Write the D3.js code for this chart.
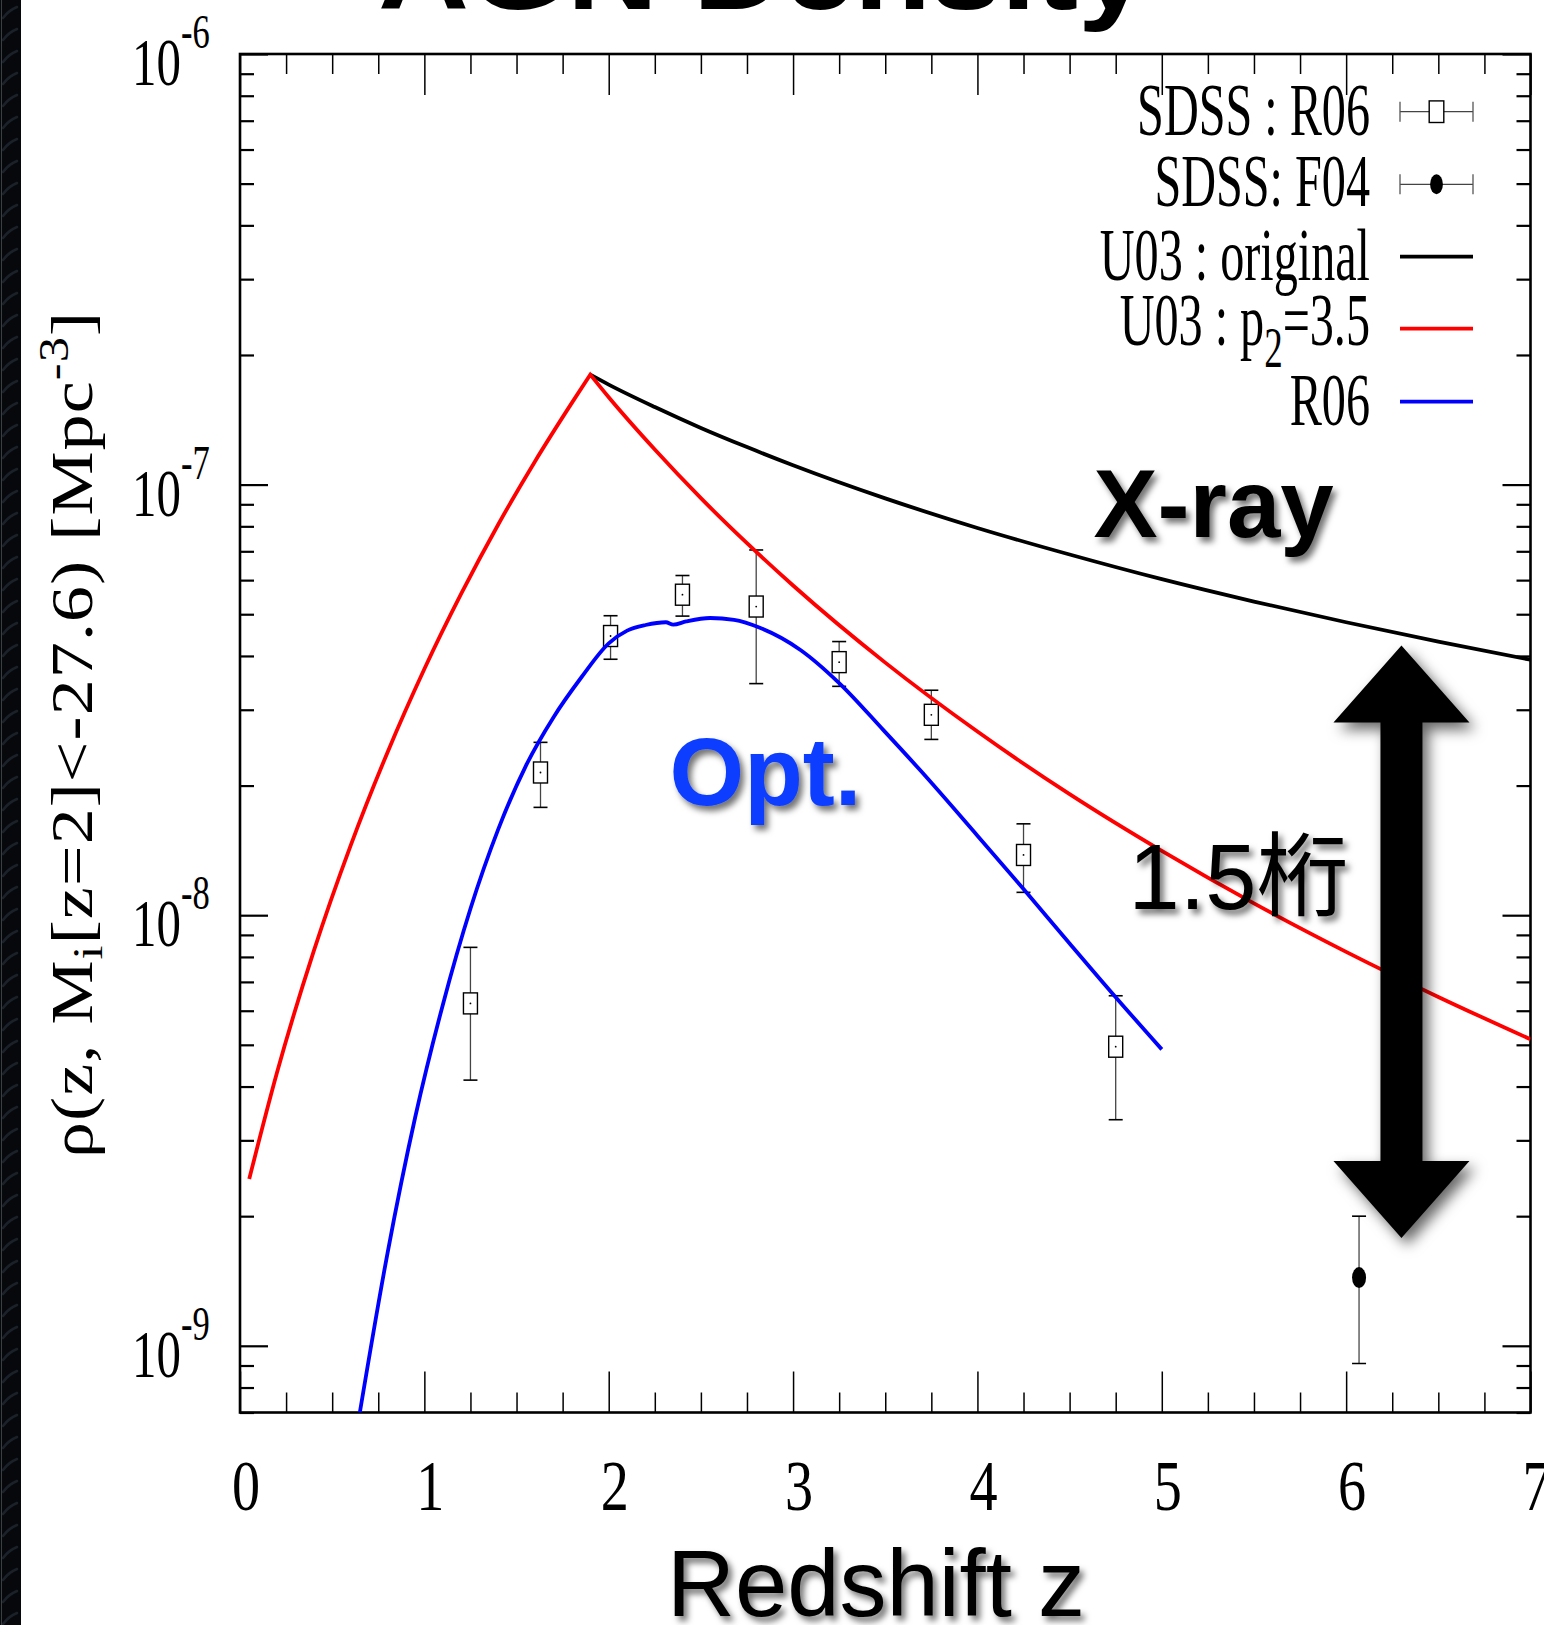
<!DOCTYPE html>
<html>
<head>
<meta charset="utf-8">
<script src="https://cdn.jsdelivr.net/npm/d3@7"></script>
<style>
  html, body { margin: 0; padding: 0; background: #fff; overflow: hidden; }
  svg { display: block; }
</style>
</head>
<body>
<svg id="chart" width="1544" height="1625"></svg>
<script>
// ---------------- data ----------------
const zTicks = [0, 1, 2, 3, 4, 5, 6, 7];
const decadeTicks = [1e-9, 1e-8, 1e-7, 1e-6];
const decadeExponents = ["-9", "-8", "-7", "-6"];

// U03 LDDE model: shared rising branch up to the cut-off redshift
const u03RiseZ   = [0.05, 0.2, 0.4, 0.6, 0.8, 1.0, 1.2, 1.4, 1.6, 1.8, 1.9];
const u03RiseRho = [2.44e-9, 4.30e-9, 8.25e-9, 1.451e-8, 2.388e-8, 3.73e-8, 5.58e-8, 8.07e-8, 1.132e-7, 1.548e-7, 1.80e-7];
// falling branches above the cut-off
const u03FallZ   = [1.9, 2.0, 2.25, 2.5, 2.75, 3.0, 3.5, 4.0, 4.5, 5.0, 5.5, 6.0, 6.5, 7.0];
const u03OrigRho = [1.80e-7, 1.707e-7, 1.514e-7, 1.354e-7, 1.222e-7, 1.109e-7, 9.29e-8, 7.93e-8, 6.88e-8, 6.03e-8, 5.35e-8, 4.79e-8, 4.32e-8, 3.92e-8];
const u03P2Rho   = [1.80e-7, 1.595e-7, 1.206e-7, 9.30e-8, 7.31e-8, 5.83e-8, 3.86e-8, 2.67e-8, 1.91e-8, 1.41e-8, 1.065e-8, 8.22e-9, 6.46e-9, 5.15e-9];

// R06 model curve
const r06ModelZ   = [0.65, 0.8, 0.95, 1.1, 1.25, 1.4, 1.55, 1.7, 1.85, 2.0, 2.1, 2.2, 2.31, 2.35, 2.42, 2.55, 2.68, 2.82, 3.04, 3.25, 3.49, 3.69, 4.0, 4.25, 4.5, 4.75, 5.0];
const r06ModelRho = [7.0e-10, 1.64e-9, 3.39e-9, 6.19e-9, 1.035e-8, 1.58e-8, 2.22e-8, 2.88e-8, 3.56e-8, 4.28e-8, 4.58e-8, 4.72e-8, 4.79e-8, 4.73e-8, 4.81e-8, 4.90e-8, 4.85e-8, 4.65e-8, 4.13e-8, 3.46e-8, 2.69e-8, 2.17e-8, 1.53e-8, 1.15e-8, 8.6e-9, 6.45e-9, 4.88e-9];

// SDSS : R06 binned densities
const r06Z   = [1.25, 1.63, 2.01, 2.40, 2.80, 3.25, 3.75, 4.25, 4.75];
const r06Rho = [6.24e-9, 2.145e-8, 4.45e-8, 5.55e-8, 5.21e-8, 3.87e-8, 2.92e-8, 1.38e-8, 4.95e-9];
const r06Lo  = [4.14e-9, 1.78e-8, 3.93e-8, 4.95e-8, 3.45e-8, 3.40e-8, 2.56e-8, 1.13e-8, 3.35e-9];
const r06Hi  = [8.42e-9, 2.52e-8, 4.96e-8, 6.15e-8, 7.05e-8, 4.32e-8, 3.33e-8, 1.63e-8, 6.50e-9];

// SDSS : F04
const f04Z   = [6.07];
const f04Rho = [1.44e-9];
const f04Lo  = [9.1e-10];
const f04Hi  = [2.0e-9];

const legendLabels = ["SDSS : R06", "SDSS: F04", "U03 : original", "U03 : p", "R06"];

// annotation anchors (redshift, density)
const arrowSpan = { z: 6.3, top: 4.23e-8, bottom: 1.78e-9 };
const xrayLabel = { z: 4.63, rho: 7.57e-8, text: "X-ray" };
const optLabel  = { z: 2.33, rho: 1.80e-8, text: "Opt." };
const gapLabel  = { z: 4.82, rho: 1.031e-8, text: "1.5桁" };

// ---------------- layout ----------------
const plot = { left: 240, right: 1530.5, top: 54, bottom: 1412.5 };
const serif = "'Liberation Serif', 'Times New Roman', serif";
const sans = "'Liberation Sans', Arial, 'Noto Sans CJK JP', sans-serif";
const curveWidth = 3.8;

const x = d3.scaleLinear().domain([0, 7]).range([plot.left, plot.right]);
const y = d3.scaleLog().domain([7e-10, 1e-6]).range([plot.bottom, plot.top]);

const svg = d3.select("#chart");
const defs = svg.append("defs");

function dropShadow(id, dx, dy, sd, op) {
  const f = defs.append("filter").attr("id", id)
    .attr("x", "-40%").attr("y", "-40%").attr("width", "180%").attr("height", "180%");
  f.append("feDropShadow").attr("dx", dx).attr("dy", dy).attr("stdDeviation", sd)
    .attr("flood-color", "#000").attr("flood-opacity", op);
}
dropShadow("textShadow", 4, 5, 3, 0.55);
dropShadow("arrowShadow", 6, 7, 7, 0.6);

defs.append("clipPath").attr("id", "plotClip")
  .append("rect").attr("x", plot.left).attr("y", plot.top)
  .attr("width", plot.right - plot.left).attr("height", plot.bottom - plot.top);

// dark textured slide edge
const pat = defs.append("pattern").attr("id", "grain").attr("patternUnits", "userSpaceOnUse")
  .attr("width", 21).attr("height", 22);
pat.append("rect").attr("width", 21).attr("height", 22).attr("fill", "#06080b");
pat.append("path").attr("d", "M3,18 Q9,10 17,7").attr("stroke", "#1a2129")
  .attr("stroke-width", 2.5).attr("fill", "none").attr("stroke-linecap", "round");
svg.append("rect").attr("x", 0).attr("y", 0).attr("width", 21).attr("height", 1625).attr("fill", "url(#grain)");
svg.append("rect").attr("x", 1).attr("y", 0).attr("width", 1).attr("height", 1625).attr("fill", "#3a3f44");

// title, partially above the page
svg.append("text").attr("x", 378).attr("y", 9)
  .attr("font-family", sans).attr("font-weight", "bold").attr("font-size", 112)
  .attr("textLength", 770).attr("lengthAdjust", "spacingAndGlyphs")
  .text("AGN Density");

// ---------------- axes ----------------
const zMinor = d3.range(0, 7.001, 0.25).filter(v => Math.abs(v - Math.round(v)) > 1e-6);
const rhoMinor = [];
[1e-10, 1e-9, 1e-8, 1e-7].forEach(d => { for (let m = 2; m <= 9; m++) { const v = m * d; if (v >= 7e-10 && v < 1e-6) rhoMinor.push(v); } });

function styleTicks(g, w) {
  g.select(".domain").remove();
  g.selectAll(".tick line").attr("stroke", "#000").attr("stroke-width", w);
  g.selectAll(".tick text").remove();
}
const axes = svg.append("g");
axes.append("g").attr("transform", `translate(0,${plot.bottom})`)
  .call(d3.axisBottom(x).tickValues(zTicks).tickSize(-41)).call(g => styleTicks(g, 1.5));
axes.append("g").attr("transform", `translate(0,${plot.bottom})`)
  .call(d3.axisBottom(x).tickValues(zMinor).tickSize(-20)).call(g => styleTicks(g, 1.5));
axes.append("g").attr("transform", `translate(0,${plot.top})`)
  .call(d3.axisTop(x).tickValues(zTicks).tickSize(-41)).call(g => styleTicks(g, 1.5));
axes.append("g").attr("transform", `translate(0,${plot.top})`)
  .call(d3.axisTop(x).tickValues(zMinor).tickSize(-20)).call(g => styleTicks(g, 1.5));
axes.append("g").attr("transform", `translate(${plot.left},0)`)
  .call(d3.axisLeft(y).tickValues(decadeTicks).tickSize(-28)).call(g => styleTicks(g, 2.2));
axes.append("g").attr("transform", `translate(${plot.left},0)`)
  .call(d3.axisLeft(y).tickValues(rhoMinor).tickSize(-14)).call(g => styleTicks(g, 2.2));
axes.append("g").attr("transform", `translate(${plot.right},0)`)
  .call(d3.axisRight(y).tickValues(decadeTicks).tickSize(-28)).call(g => styleTicks(g, 2.2));
axes.append("g").attr("transform", `translate(${plot.right},0)`)
  .call(d3.axisRight(y).tickValues(rhoMinor).tickSize(-14)).call(g => styleTicks(g, 2.2));

svg.append("rect").attr("x", plot.left).attr("y", plot.top)
  .attr("width", plot.right - plot.left).attr("height", plot.bottom - plot.top)
  .attr("fill", "none").attr("stroke", "#000").attr("stroke-width", 2.6);

// x tick labels (condensed serif)
svg.append("g").selectAll("text").data(zTicks).join("text")
  .attr("transform", d => `translate(${x(d) + 6},1510) scale(0.78,1)`)
  .attr("text-anchor", "middle").attr("font-family", serif).attr("font-size", 72)
  .text(d => d);

// y tick labels: 10 with superscript exponent
const yLab = svg.append("g").selectAll("text").data(decadeTicks).join("text")
  .attr("transform", d => `translate(132,${y(d) + 31}) scale(0.72,1)`)
  .attr("font-family", serif).attr("font-size", 68);
yLab.append("tspan").text("10");
yLab.append("tspan").attr("dy", -37).attr("font-size", 48).text((d, i) => decadeExponents[i]);

// axis titles
svg.append("text").attr("x", 876).attr("y", 1616).attr("text-anchor", "middle")
  .attr("font-family", sans).attr("font-size", 94).attr("filter", "url(#textShadow)")
  .text("Redshift z");

const yt = svg.append("text")
  .attr("transform", "translate(92,735) rotate(-90) scale(1.2,1)")
  .attr("text-anchor", "middle").attr("font-family", serif).attr("font-size", 60)
  .attr("textLength", 705).attr("lengthAdjust", "spacing");
yt.append("tspan").text("ρ(z, M");
yt.append("tspan").attr("dy", 10).attr("font-size", 42).text("i");
yt.append("tspan").attr("dy", -10).text("[z=2]<-27.6) [Mpc");
yt.append("tspan").attr("dy", -24).attr("font-size", 42).text("-3");
yt.append("tspan").attr("dy", 24).text("]");

// ---------------- data points ----------------
const pts = svg.append("g").attr("clip-path", "url(#plotClip)");
const boxW = 14, boxH = 21, capW = 14;
const r06 = r06Z.map((z, i) => ({ z, rho: r06Rho[i], lo: r06Lo[i], hi: r06Hi[i] }));
const r06g = pts.selectAll("g.r06").data(r06).join("g").attr("class", "r06");
r06g.append("line").attr("x1", d => x(d.z)).attr("x2", d => x(d.z))
  .attr("y1", d => y(d.hi)).attr("y2", d => y(d.rho) - boxH / 2)
  .attr("stroke", "#444").attr("stroke-width", 1.3);
r06g.append("line").attr("x1", d => x(d.z)).attr("x2", d => x(d.z))
  .attr("y1", d => y(d.rho) + boxH / 2).attr("y2", d => y(d.lo))
  .attr("stroke", "#444").attr("stroke-width", 1.3);
["hi", "lo"].forEach(k => {
  r06g.append("line").attr("x1", d => x(d.z) - capW / 2).attr("x2", d => x(d.z) + capW / 2)
    .attr("y1", d => y(d[k])).attr("y2", d => y(d[k]))
    .attr("stroke", "#000").attr("stroke-width", 1.6);
});
r06g.append("rect").attr("x", d => x(d.z) - boxW / 2).attr("y", d => y(d.rho) - boxH / 2)
  .attr("width", boxW).attr("height", boxH).attr("fill", "none")
  .attr("stroke", "#000").attr("stroke-width", 1.4);
r06g.append("circle").attr("cx", d => x(d.z)).attr("cy", d => y(d.rho)).attr("r", 0.9).attr("fill", "#000");

const f04 = f04Z.map((z, i) => ({ z, rho: f04Rho[i], lo: f04Lo[i], hi: f04Hi[i] }));
const f04g = pts.selectAll("g.f04").data(f04).join("g").attr("class", "f04");
f04g.append("line").attr("x1", d => x(d.z)).attr("x2", d => x(d.z))
  .attr("y1", d => y(d.hi)).attr("y2", d => y(d.lo))
  .attr("stroke", "#555").attr("stroke-width", 1.4);
["hi", "lo"].forEach(k => {
  f04g.append("line").attr("x1", d => x(d.z) - capW / 2).attr("x2", d => x(d.z) + capW / 2)
    .attr("y1", d => y(d[k])).attr("y2", d => y(d[k]))
    .attr("stroke", "#000").attr("stroke-width", 1.6);
});
f04g.append("ellipse").attr("cx", d => x(d.z)).attr("cy", d => y(d.rho))
  .attr("rx", 7).attr("ry", 10.5).attr("fill", "#000");

// ---------------- model curves ----------------
const curves = svg.append("g").attr("clip-path", "url(#plotClip)").attr("fill", "none");
const line = d3.line().x(d => x(d[0])).y(d => y(d[1])).curve(d3.curveMonotoneX);
const rise = u03RiseZ.map((z, i) => [z, u03RiseRho[i]]);
const fallOrig = u03FallZ.map((z, i) => [z, u03OrigRho[i]]);
const fallP2 = u03FallZ.map((z, i) => [z, u03P2Rho[i]]);
const r06Model = r06ModelZ.map((z, i) => [z, r06ModelRho[i]]);

curves.append("path").attr("d", line(fallOrig))
  .attr("stroke", "#000").attr("stroke-width", curveWidth);
curves.append("path").attr("d", line(rise) + line(fallP2).replace(/^M/, "L"))
  .attr("stroke", "#ff0000").attr("stroke-width", curveWidth).attr("stroke-linejoin", "miter");
curves.append("path").attr("d", line(r06Model))
  .attr("stroke", "#0000ff").attr("stroke-width", curveWidth).attr("stroke-linejoin", "round");

// ---------------- legend ----------------
const legRows = [134.5, 206, 280, 345, 425];         // text baselines
const legSym  = [111.7, 184.3, 256.7, 328.7, 401.7]; // symbol centres
const legX0 = 1400, legX1 = 1473, legTextX = 1370;
const leg = svg.append("g");
legendLabels.forEach((lab, i) => {
  const t = leg.append("text")
    .attr("transform", `translate(${legTextX},${legRows[i]}) scale(0.66,1)`)
    .attr("text-anchor", "end").attr("font-family", serif).attr("font-size", 73);
  if (i === 3) {
    t.append("tspan").text(lab);
    t.append("tspan").attr("dy", 22).attr("font-size", 56).text("2");
    t.append("tspan").attr("dy", -22).text("=3.5");
  } else {
    t.text(lab);
  }
});
// error-bar symbols
[0, 1].forEach(i => {
  const cy = legSym[i], cx = (legX0 + legX1) / 2;
  leg.append("line").attr("x1", legX0).attr("x2", legX1).attr("y1", cy).attr("y2", cy)
    .attr("stroke", "#444").attr("stroke-width", 1.3);
  [legX0, legX1].forEach(ex => leg.append("line").attr("x1", ex).attr("x2", ex)
    .attr("y1", cy - 10).attr("y2", cy + 10).attr("stroke", "#555").attr("stroke-width", 1.3));
  if (i === 0) {
    leg.append("rect").attr("x", cx - 7.3).attr("y", cy - 10.8).attr("width", 14.6).attr("height", 21.6)
      .attr("fill", "#fff").attr("stroke", "#000").attr("stroke-width", 1.4);
  } else {
    leg.append("ellipse").attr("cx", cx).attr("cy", cy).attr("rx", 6.4).attr("ry", 10).attr("fill", "#000");
  }
});
[["#000", 2], ["#ff0000", 3], ["#0000ff", 4]].forEach(([c, i]) => {
  leg.append("line").attr("x1", legX0).attr("x2", legX1).attr("y1", legSym[i]).attr("y2", legSym[i])
    .attr("stroke", c).attr("stroke-width", curveWidth);
});

// ---------------- annotations ----------------
const ann = svg.append("g");
ann.append("text").attr("x", x(xrayLabel.z)).attr("y", y(xrayLabel.rho))
  .attr("font-family", sans).attr("font-weight", "bold").attr("font-size", 96)
  .attr("filter", "url(#textShadow)").text(xrayLabel.text);
ann.append("text").attr("x", x(optLabel.z)).attr("y", y(optLabel.rho))
  .attr("font-family", sans).attr("font-weight", "bold").attr("font-size", 96)
  .attr("fill", "#0a3cff").attr("filter", "url(#textShadow)").text(optLabel.text);
ann.append("text").attr("x", x(gapLabel.z)).attr("y", y(gapLabel.rho))
  .attr("font-family", sans).attr("font-size", 92)
  .attr("filter", "url(#textShadow)").text(gapLabel.text);

// double-headed arrow spanning the gap between the two populations
const ax = x(arrowSpan.z), aTop = y(arrowSpan.top), aBot = y(arrowSpan.bottom);
const headW = 68, headH = 77, shaftW = 21;
const arrowPath = d3.path();
arrowPath.moveTo(ax, aTop);
arrowPath.lineTo(ax + headW, aTop + headH);
arrowPath.lineTo(ax + shaftW, aTop + headH);
arrowPath.lineTo(ax + shaftW, aBot - headH);
arrowPath.lineTo(ax + headW, aBot - headH);
arrowPath.lineTo(ax, aBot);
arrowPath.lineTo(ax - headW, aBot - headH);
arrowPath.lineTo(ax - shaftW, aBot - headH);
arrowPath.lineTo(ax - shaftW, aTop + headH);
arrowPath.lineTo(ax - headW, aTop + headH);
arrowPath.closePath();
ann.append("path").attr("d", arrowPath.toString()).attr("fill", "#000").attr("filter", "url(#arrowShadow)");
</script>
</body>
</html>
